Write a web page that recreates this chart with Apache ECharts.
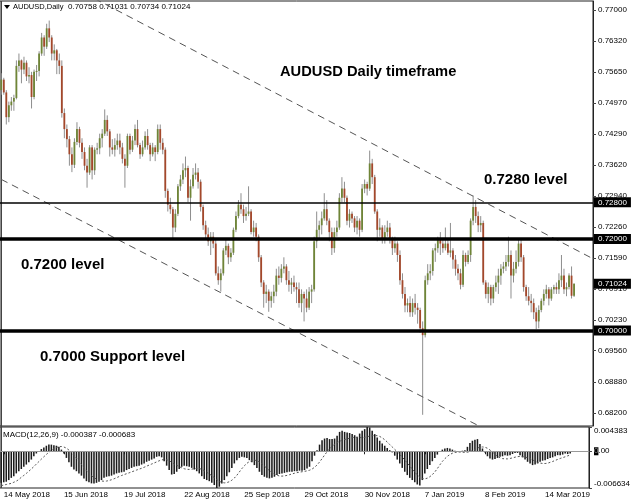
<!DOCTYPE html>
<html><head><meta charset="utf-8">
<script src="https://cdn.jsdelivr.net/npm/echarts@6/dist/echarts.min.js"></script>
<style>html,body{margin:0;padding:0;background:#fff}#c{width:633px;height:503px}</style>
</head><body><div id="c"></div>
<script>
// ---------------- data ----------------
const startDate = '2018-05-11';
const holidays = ['2018-12-25', '2019-01-01'];
const barCount = 228;
const shiftBars = 7;
const tickLabels = ['14 May 2018','15 Jun 2018','19 Jul 2018','22 Aug 2018','25 Sep 2018','29 Oct 2018','30 Nov 2018','7 Jan 2019','8 Feb 2019','14 Mar 2019'];
const priceTicks = [0.7700,0.7632,0.7565,0.7497,0.7429,0.7362,0.7294,0.7226,0.7159,0.7091,0.7023,0.6956,0.6888,0.6820];
const macdTicks = [-0.006634, 0, 0.004383];
const levelLines = [0.7280, 0.7200, 0.7000];
const lastPrice = 0.71024;
const upperTrend = [[37, 0.772487], [234, 0.715830]];
const lowerTrend = [[0, 0.733013], [200, 0.676130]];

// prices in pips (x 0.0001)
const opens = [7525,7548,7520,7466,7492,7500,7508,7578,7590,7570,
7585,7555,7558,7510,7565,7567,7605,7640,7620,7660,
7640,7605,7612,7590,7578,7475,7440,7418,7385,7362,
7412,7440,7410,7390,7360,7345,7400,7350,7395,7398,
7420,7430,7460,7435,7400,7395,7405,7415,7400,7375,
7360,7425,7395,7415,7440,7405,7385,7400,7425,7405,
7385,7400,7390,7440,7410,7395,7305,7275,7265,7225,
7255,7315,7330,7350,7355,7290,7315,7340,7345,7325,
7270,7230,7210,7195,7205,7190,7125,7110,7125,7175,
7185,7160,7170,7220,7250,7275,7265,7250,7255,7260,
7215,7225,7205,7160,7105,7080,7085,7065,7075,7085,
7120,7115,7135,7140,7110,7100,7105,7095,7090,7060,
7080,7070,7050,7085,7090,7195,7220,7230,7245,7265,
7240,7215,7180,7215,7225,7290,7310,7290,7240,7255,
7245,7225,7240,7220,7310,7320,7310,7365,7335,7260,
7220,7225,7200,7215,7225,7200,7180,7190,7165,7110,
7080,7055,7060,7040,7060,7050,7045,7005,6990,7110,
7125,7130,7175,7180,7200,7190,7180,7190,7170,7175,
7155,7135,7125,7100,7165,7150,7165,7240,7270,7250,
7230,7235,7105,7080,7095,7070,7095,7105,7120,7135,
7140,7150,7165,7120,7135,7150,7190,7160,7095,7075,
7065,7060,7040,7020,7045,7065,7080,7090,7070,7090,
7095,7090,7110,7120,7090,7095,7120,7075.8];
const highs = [7562,7552,7525,7500,7510,7515,7590,7605,7592,7598,
7590,7575,7565,7570,7580,7610,7650,7645,7670,7677,
7645,7625,7615,7605,7590,7485,7450,7425,7400,7420,
7455,7445,7420,7400,7375,7405,7405,7400,7410,7430,
7440,7483,7470,7440,7418,7420,7430,7430,7410,7385,
7430,7430,7425,7450,7460,7410,7415,7435,7440,7410,
7410,7405,7450,7450,7420,7400,7310,7290,7270,7265,
7320,7340,7365,7380,7360,7330,7355,7365,7355,7330,
7275,7240,7225,7215,7215,7200,7140,7135,7180,7200,
7190,7180,7225,7260,7285,7300,7275,7270,7315,7265,
7240,7235,7210,7165,7110,7100,7090,7085,7100,7135,
7140,7145,7160,7145,7130,7115,7120,7105,7105,7090,
7085,7090,7095,7100,7205,7260,7240,7260,7300,7285,
7245,7225,7225,7240,7300,7335,7325,7295,7265,7260,
7250,7250,7245,7320,7330,7325,7393,7375,7340,7265,
7245,7230,7230,7240,7235,7205,7205,7195,7175,7125,
7095,7070,7075,7070,7080,7060,7050,7020,7120,7145,
7145,7180,7190,7205,7215,7200,7225,7200,7235,7180,
7165,7145,7135,7175,7170,7175,7245,7295,7285,7260,
7250,7240,7110,7105,7100,7100,7120,7135,7145,7150,
7165,7205,7175,7150,7175,7200,7200,7165,7100,7095,
7080,7070,7050,7055,7070,7090,7100,7095,7095,7100,
7105,7125,7165,7135,7105,7125,7140,7103.1];
const lows = [7515,7515,7450,7455,7480,7480,7505,7565,7540,7560,
7545,7540,7485,7505,7545,7555,7600,7600,7615,7630,
7590,7590,7560,7560,7465,7420,7400,7360,7346,7355,
7405,7400,7375,7350,7312,7340,7330,7340,7385,7385,
7400,7425,7425,7380,7385,7380,7395,7385,7365,7312,
7355,7385,7390,7405,7400,7375,7380,7395,7395,7370,
7380,7370,7385,7395,7385,7290,7260,7255,7202,7215,
7250,7305,7320,7335,7280,7240,7310,7330,7310,7260,
7220,7200,7185,7165,7180,7120,7100,7085,7120,7165,
7145,7150,7165,7215,7245,7255,7235,7240,7250,7210,
7205,7195,7150,7095,7050,7060,7041,7050,7060,7075,
7100,7105,7125,7100,7085,7080,7085,7060,7050,7040,
7020,7040,7045,7060,7085,7180,7200,7210,7240,7230,
7195,7165,7170,7205,7220,7280,7280,7230,7225,7235,
7215,7210,7205,7215,7300,7295,7305,7320,7255,7195,
7205,7190,7190,7205,7190,7165,7170,7150,7100,7070,
7040,7040,7030,7030,7035,7015,6995,6816,6985,7100,
7110,7120,7150,7170,7165,7170,7175,7165,7160,7135,
7120,7110,7090,7095,7140,7145,7150,7230,7235,7215,
7215,7100,7070,7060,7055,7060,7085,7080,7100,7125,
7130,7140,7070,7105,7125,7140,7150,7085,7065,7055,
7040,7025,7003,7005,7040,7055,7070,7055,7065,7080,
7080,7080,7095,7080,7075,7090,7070,7073.4];
const closes = [7548,7520,7466,7492,7500,7508,7578,7590,7570,7585,
7555,7558,7510,7565,7567,7605,7640,7620,7660,7640,
7605,7612,7590,7578,7475,7440,7418,7385,7362,7412,
7440,7410,7390,7360,7345,7400,7350,7395,7398,7420,
7430,7460,7435,7400,7395,7405,7415,7400,7375,7360,
7425,7395,7415,7440,7405,7385,7400,7425,7405,7385,
7400,7390,7440,7410,7395,7305,7275,7265,7225,7255,
7315,7330,7350,7355,7290,7315,7340,7345,7325,7270,
7230,7210,7195,7205,7190,7125,7110,7125,7175,7185,
7160,7170,7220,7250,7275,7265,7250,7255,7260,7215,
7225,7205,7160,7105,7080,7085,7065,7075,7085,7120,
7115,7135,7140,7110,7100,7105,7095,7090,7060,7080,
7070,7050,7085,7090,7195,7220,7230,7245,7265,7240,
7215,7180,7215,7225,7290,7310,7290,7240,7255,7245,
7225,7240,7220,7310,7320,7310,7365,7335,7260,7220,
7225,7200,7215,7225,7200,7180,7190,7165,7110,7080,
7055,7060,7040,7060,7050,7045,7005,6990,7110,7125,
7130,7175,7180,7200,7190,7180,7190,7170,7175,7155,
7135,7125,7100,7165,7150,7165,7240,7270,7250,7230,
7235,7105,7080,7095,7070,7095,7105,7120,7135,7140,
7150,7165,7120,7135,7150,7190,7160,7095,7075,7065,
7060,7040,7020,7045,7065,7080,7090,7070,7090,7095,
7090,7110,7120,7090,7095,7120,7076,7102.4];

// MACD in units of 0.0001
const macdMain = [-57,-56,-55,-52,-48,-45,-40,-36,-32,-28,
-24,-20,-15,-9,-4,0,4,7,10,12,
12,11,10,8,3,-4,-12,-20,-28,-33,
-36,-40,-44,-49,-54,-56,-58,-58,-57,-55,
-52,-48,-46,-45,-44,-42,-40,-39,-38,-37,
-34,-32,-30,-28,-27,-26,-24,-22,-19,-17,
-15,-13,-10,-9,-11,-18,-26,-34,-42,-41,
-37,-32,-28,-26,-27,-28,-30,-33,-36,-40,
-45,-50,-52,-54,-57,-61,-66.34,-64,-58,-52,
-45,-38,-30,-22,-16,-12,-10,-11,-12,-16,
-20,-25,-30,-37,-43,-46,-48,-49,-48,-46,
-43,-41,-40,-39,-38,-37,-37,-36,-36,-35,
-35,-34,-31,-28,-18,-8,2,12,20,23,
24,22,22,23,28,35,37,35,34,33,
31,29,26,32,37,40,43.83,43,37,31,
25,19,14,10,6,2,-2,-8,-15,-22,
-30,-37,-43,-48,-52,-56,-60,-62,-52,-40,
-32,-25,-18,-12,-6,-1,3,5,6,5,
3,1,-1,0,1,2,8,15,19,21,
22,13,5,-2,-9,-13,-15,-14,-12,-10,
-9,-7,-8,-7,-5,-3,-3,-7,-11,-15,
-19,-22,-25,-24,-22,-19,-17,-16,-14,-12,
-11,-9,-7,-7,-6,-4,-5,-3.87];
const macdSignal = [-62,-61,-60,-59,-58,-56,-54,-51,-47,-43.6,
-40,-36.1,-32,-27.7,-23.1,-18.7,-14.2,-9.9,-5.7,-1.7,
1.9,4.8,6.9,8.2,8.6,7.7,5.6,2.2,-2.2,-7.2,
-12.4,-18,-23.8,-29.6,-35.1,-40,-44.2,-47.6,-50.2,-52.3,
-53.7,-54.1,-53.8,-52.8,-51.4,-49.7,-47.7,-45.7,-43.8,-42.1,
-40.6,-39,-37.3,-35.6,-33.9,-32.3,-30.7,-28.9,-26.9,-25,
-23.1,-21.2,-19.2,-17.2,-15.6,-14.9,-15.3,-17,-19.8,-22.7,
-25.3,-27.8,-29.9,-31.6,-32.6,-32.8,-32.3,-31.3,-30.8,-31.1,
-32.6,-35,-37.9,-40.9,-44.1,-47.6,-51.2,-54.3,-56.3,-57.1,
-56.6,-55,-52.3,-48.4,-43.4,-37.4,-31.4,-26.2,-21.8,-18.6,
-16.6,-16,-16.9,-19.2,-22.7,-26.7,-30.8,-34.9,-38.4,-41.3,
-43.3,-44.6,-44.9,-44.4,-43.6,-42.3,-41,-39.7,-38.6,-37.7,
-37,-36.3,-35.4,-34.3,-32.2,-29,-24.8,-19.4,-13.3,-7,
-0.9,4.7,9.1,12.6,15.4,18,19.9,21.2,22.3,23.6,
24.6,25.2,25,24.7,24.7,25.2,26.3,27.4,28.1,28.3,
28.2,26.8,24.2,20.9,16.7,12.1,7.8,3.4,-1,-5.6,
-10.4,-15.7,-21.1,-26.7,-32.2,-37.6,-42.6,-47,-49.4,-49.8,
-48.6,-46,-42.2,-37.3,-31.3,-24.6,-18.4,-13.4,-9.2,-5.9,
-3.6,-2.1,-1.6,-1.4,-1.7,-2,-1.8,-0.7,1.1,3.3,
5.9,7.3,7.8,7.3,5.4,2.3,-1.4,-5.3,-9.1,-11.7,
-13.2,-13.8,-13.7,-13,-11.9,-10.7,-9.7,-9.3,-9.6,-10.4,
-11.7,-13.3,-15.6,-17.9,-20,-21.3,-22,-22.1,-21.6,-20,
-18.5,-16.5,-14.8,-13,-11.5,-10,-8.3,-6.83];

// ---------------- build ----------------
const MONTHS = ['Jan','Feb','Mar','Apr','May','Jun','Jul','Aug','Sep','Oct','Nov','Dec'];
const categories = [];
(function () {
  const d = new Date(startDate + 'T00:00:00Z');
  while (categories.length < barCount + shiftBars) {
    const dow = d.getUTCDay();
    const iso = d.toISOString().slice(0, 10);
    if (dow !== 0 && dow !== 6 && holidays.indexOf(iso) < 0) {
      categories.push(d.getUTCDate() + ' ' + MONTHS[d.getUTCMonth()] + ' ' + d.getUTCFullYear());
    }
    d.setUTCDate(d.getUTCDate() + 1);
  }
})();
const P = 1e-4;
const candleData = opens.map((o, i) => [i, o * P, closes[i] * P, lows[i] * P, highs[i] * P]);
const FONT = '"Liberation Sans", Arial, sans-serif';
const isTick = (idx, val) => tickLabels.indexOf(val) >= 0;

const chart = echarts.init(document.getElementById('c'), null, { renderer: 'canvas' });
const boxLabel = {
  show: true, position: 'end', distance: 1,
  formatter: '{b}',
  backgroundColor: '#000', color: '#fff', fontSize: 8, fontFamily: FONT,
  padding: [1, 4, 1, 4]
};
const levelMark = (v, width) => ({
  name: v.toFixed(5), yAxis: v,
  lineStyle: width > 0 ? { color: '#000', width: width, type: 'solid' } : { color: 'rgba(0,0,0,0)', width: 1 },
  label: boxLabel
});
chart.setOption({
  animation: false,
  backgroundColor: '#fff',
  grid: [
    { left: -1.3, right: 40, top: 1, height: 425, show: true, borderColor: '#222', borderWidth: 1, backgroundColor: 'transparent' },
    { left: -1.3, right: 40, top: 427, height: 61, show: true, borderColor: '#222', borderWidth: 1, backgroundColor: 'transparent' }
  ],
  xAxis: [
    { type: 'category', gridIndex: 0, data: categories, boundaryGap: true, show: false },
    { type: 'category', gridIndex: 1, data: categories, boundaryGap: true,
      axisLine: { show: true, lineStyle: { color: '#222' } },
      axisTick: { show: true, interval: isTick, alignWithLabel: true, length: 3, lineStyle: { color: '#222' } },
      axisLabel: { show: true, interval: isTick, align: 'left', margin: 3, fontSize: 8, fontFamily: FONT, color: '#000' },
      splitLine: { show: false } }
  ],
  yAxis: [
    { type: 'value', gridIndex: 0, position: 'right', min: 0.67916, max: 0.77197, scale: true,
      axisLine: { show: true, lineStyle: { color: '#222' } },
      axisTick: { show: true, length: 3, customValues: priceTicks, lineStyle: { color: '#444' } },
      axisLabel: { show: true, customValues: priceTicks, margin: 5, fontSize: 8, fontFamily: FONT, color: '#000',
        formatter: v => Number(v).toFixed(5) },
      splitLine: { show: false } },
    { type: 'value', gridIndex: 1, position: 'right', min: -0.006634, max: 0.004383,
      axisLine: { show: true, lineStyle: { color: '#222' } },
      axisTick: { show: true, length: 3, customValues: macdTicks, lineStyle: { color: '#444' } },
      axisLabel: { show: true, customValues: macdTicks, margin: 5, fontSize: 8, fontFamily: FONT, color: '#000',
        verticalAlignMaxLabel: 'top', verticalAlignMinLabel: 'bottom',
        formatter: v => (Math.abs(v) < 1e-9 ? '{z|0}.00' : Number(v).toFixed(6)),
        rich: { z: { backgroundColor: '#000', color: '#888', fontSize: 8, fontFamily: FONT } } },
      splitLine: { show: false } }
  ],
  series: [
    {
      type: 'custom', name: 'AUDUSD', xAxisIndex: 0, yAxisIndex: 0, clip: true,
      data: candleData,
      encode: { x: 0, y: [1, 2, 3, 4] },
      renderItem: function (params, api) {
        const i = api.value(0);
        const pO = api.coord([i, api.value(1)]);
        const pC = api.coord([i, api.value(2)]);
        const pL = api.coord([i, api.value(3)]);
        const pH = api.coord([i, api.value(4)]);
        const w = api.size([1, 0])[0] * 0.72;
        const up = api.value(2) >= api.value(1);
        const top = Math.min(pO[1], pC[1]);
        const h = Math.max(1, Math.abs(pO[1] - pC[1]));
        return {
          type: 'group',
          children: [
            { type: 'line', shape: { x1: pO[0], y1: pH[1], x2: pO[0], y2: pL[1] },
              style: { stroke: '#8e8e8e', lineWidth: 1 } },
            { type: 'rect', shape: { x: pO[0] - w / 2, y: top, width: w, height: h },
              style: { fill: up ? '#6f8537' : '#a4482b' } }
          ]
        };
      }
    },
    {
      type: 'line', name: 'upper', xAxisIndex: 0, yAxisIndex: 0, data: upperTrend,
      symbol: 'none', clip: true, silent: true,
      lineStyle: { color: '#555', width: 1, type: [7, 5] },
      markLine: {
        silent: true, symbol: ['none', 'none'], animation: false, precision: 5,
        data: [
          levelMark(levelLines[0], 1.5),
          levelMark(levelLines[1], 3.5),
          levelMark(levelLines[2], 3.5),
          levelMark(lastPrice, 0)
        ]
      }
    },
    {
      type: 'line', name: 'lower', xAxisIndex: 0, yAxisIndex: 0, data: lowerTrend,
      symbol: 'none', clip: true, silent: true,
      lineStyle: { color: '#555', width: 1, type: [7, 5] }
    },
    {
      type: 'bar', name: 'MACD', xAxisIndex: 1, yAxisIndex: 1,
      data: macdMain.map(v => v * P), barWidth: '62%',
      itemStyle: { color: '#1c1c1c' },
      markLine: {
        silent: true, symbol: ['none', 'none'], animation: false, label: { show: false }, precision: 6,
        data: [{ yAxis: 0, lineStyle: { color: '#999', width: 1, type: 'solid' } }]
      }
    },
    {
      type: 'line', name: 'Signal', xAxisIndex: 1, yAxisIndex: 1,
      data: macdSignal.map(v => v * P), symbol: 'none',
      lineStyle: { color: '#555', width: 1, type: [2, 2] }
    }
  ],
  graphic: [
    { type: 'line', shape: { x1: 1.5, y1: 1, x2: 1.5, y2: 488 }, style: { stroke: '#444', lineWidth: 1 }, silent: true },
    { type: 'polygon', shape: { points: [[4, 5], [10, 5], [7, 9]] }, style: { fill: '#000' }, silent: true },
    { type: 'text', x: 13, y: 7, style: { text: 'AUDUSD,Daily', fontSize: 7.5, fontFamily: FONT, fill: '#000', verticalAlign: 'middle' }, silent: true },
    { type: 'text', x: 68, y: 7, style: { text: '0.70758 0.71031 0.70734 0.71024', fontSize: 8, fontFamily: FONT, fill: '#000', verticalAlign: 'middle' }, silent: true },
    { type: 'text', x: 3, y: 435, style: { text: 'MACD(12,26,9) -0.000387 -0.000683', fontSize: 8, fontFamily: FONT, fill: '#000', verticalAlign: 'middle' }, silent: true },
    { type: 'text', x: 280, y: 72, style: { text: 'AUDUSD Daily timeframe', fontSize: 14.7, fontWeight: 'bold', fontFamily: FONT, fill: '#000', verticalAlign: 'middle' }, silent: true },
    { type: 'text', x: 484, y: 180, style: { text: '0.7280 level', fontSize: 15, fontWeight: 'bold', fontFamily: FONT, fill: '#000', verticalAlign: 'middle' }, silent: true },
    { type: 'text', x: 21, y: 265, style: { text: '0.7200 level', fontSize: 15, fontWeight: 'bold', fontFamily: FONT, fill: '#000', verticalAlign: 'middle' }, silent: true },
    { type: 'text', x: 40, y: 357, style: { text: '0.7000 Support level', fontSize: 15, fontWeight: 'bold', fontFamily: FONT, fill: '#000', verticalAlign: 'middle' }, silent: true }
  ]
});
</script>
</body></html>
